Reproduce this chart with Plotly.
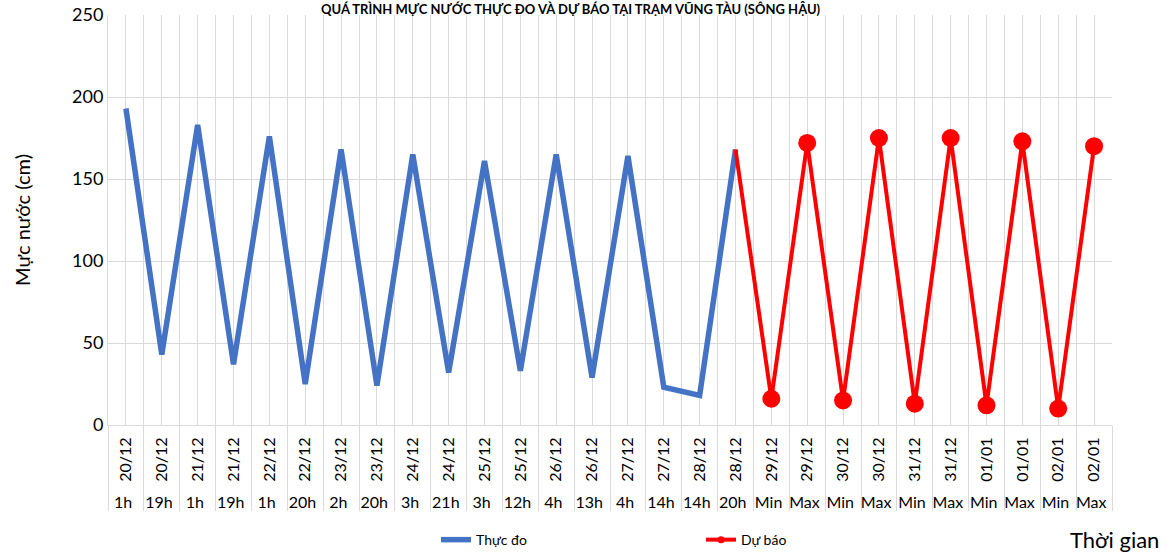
import plotly.graph_objects as go

# ---- data ----
dates = ["20/12", "20/12", "21/12", "21/12", "22/12", "22/12", "23/12", "23/12",
         "24/12", "24/12", "25/12", "25/12", "26/12", "26/12", "27/12", "27/12",
         "28/12", "28/12", "29/12", "29/12", "30/12", "30/12", "31/12", "31/12",
         "01/01", "01/01", "02/01", "02/01"]
hours = ["1h", "19h", "1h", "19h", "1h", "20h", "2h", "20h",
         "3h", "21h", "3h", "12h", "4h", "13h", "4h", "14h",
         "14h", "20h", "Min", "Max", "Min", "Max", "Min", "Max",
         "Min", "Max", "Min", "Max"]
observed = [193, 43, 183, 37, 176, 25, 168, 24, 165, 32, 161, 33, 165, 29, 164, 23,
            18, 168]
forecast = [None] * 17 + [168, 16, 172, 15, 175, 13, 175, 12, 173, 10, 170]

title_text = "QUÁ TRÌNH MỰC NƯỚC THỰC ĐO VÀ DỰ BÁO TẠI TRẠM VŨNG TÀU (SÔNG HẬU)"

# make each outer (hour) label a distinct category so Plotly keeps the order
seen = {}
outer = []
for h in hours:
    k = seen.get(h, 0)
    seen[h] = k + 1
    outer.append(h + "\u200b" * k)
x = [outer, dates]

n = len(dates)
obs_x = [outer[:len(observed)], dates[:len(observed)]]
fc_idx = [i for i, v in enumerate(forecast) if v is not None]
fc_x = [[outer[i] for i in fc_idx], [dates[i] for i in fc_idx]]
fc_y = [forecast[i] for i in fc_idx]
mk_idx = fc_idx[1:]
mk_x = [[outer[i] for i in mk_idx], [dates[i] for i in mk_idx]]
mk_y = [forecast[i] for i in mk_idx]

FONT = "Lato, 'Liberation Sans', sans-serif"
GRID = "#d9d9d9"

fig = go.Figure()
fig.add_trace(go.Scatter(x=x, y=[None] * n, mode="lines", showlegend=False,
                         hoverinfo="skip", line=dict(color="rgba(0,0,0,0)")))
fig.add_trace(go.Scatter(x=obs_x, y=observed, mode="lines", name="Thực đo",
                         line=dict(color="#4472C4", width=5.5)))
fig.add_trace(go.Scatter(x=fc_x, y=fc_y, mode="lines", showlegend=False,
                         line=dict(color="#FF0000", width=4)))
fig.add_trace(go.Scatter(x=mk_x, y=mk_y, mode="markers", showlegend=False,
                         marker=dict(color="#FF0000", size=18)))
fig.add_trace(go.Scatter(x=fc_x, y=[None] * len(fc_y), mode="lines+markers",
                         name="Dự báo", line=dict(color="#FF0000", width=4),
                         marker=dict(color="#FF0000", size=7)))
# grid-only overlay axis
fig.add_trace(go.Scatter(x=[-0.5, 27.5], y=[None, None], xaxis="x2",
                         showlegend=False, hoverinfo="skip", mode="lines"))

fig.update_layout(
    width=1174, height=559,
    paper_bgcolor="white", plot_bgcolor="white",
    margin=dict(l=108, r=62, t=15, b=134),
    font=dict(family=FONT, color="#000000"),
    title=dict(text="<b>" + title_text + "</b>", xref="container", x=0.486,
               xanchor="center", y=1 - 9 / 559, yanchor="middle",
               font=dict(size=13, family=FONT, color="#000000")),
    xaxis=dict(type="multicategory", showgrid=False, showline=True,
               linecolor=GRID, linewidth=1, tickangle=-90,
               tickfont=dict(size=16, family=FONT, color="#000000"),
               ticklabelstandoff=5,
               showdividers=True, dividercolor=GRID, dividerwidth=1,
               ticks="", automargin=False, range=[-0.5, 27.5]),
    xaxis2=dict(overlaying="x", anchor="y", side="top", range=[-0.5, 27.5],
                tick0=-0.5, dtick=0.5, showgrid=True, gridcolor=GRID, gridwidth=1,
                showticklabels=False, ticks="", zeroline=False, showline=False),
    yaxis=dict(range=[0, 250], dtick=50, showgrid=True, gridcolor=GRID, gridwidth=1,
               showline=True, linecolor=GRID, zeroline=False, ticks="",
               tickfont=dict(size=18, family=FONT, color="#000000"),
               title=dict(text="Mực nước (cm)", standoff=36,
                          font=dict(size=20, family=FONT, color="#000000")),
               automargin=False),
    legend=dict(orientation="h", xref="container", yref="container",
                x=0.3714, xanchor="left", y=0.0053, yanchor="bottom",
                entrywidth=220, entrywidthmode="pixels",
                font=dict(size=14, family=FONT, color="#000000")),
    annotations=[dict(text="Thời gian", xref="paper", yref="paper", x=1.002, y=-0.279,
                      xanchor="center", yanchor="middle", showarrow=False,
                      font=dict(size=22, family=FONT, color="#000000"))],
)

fig.write_html("out.html", config={"displayModeBar": False},
               post_script="document.body.style.margin='0px';")
